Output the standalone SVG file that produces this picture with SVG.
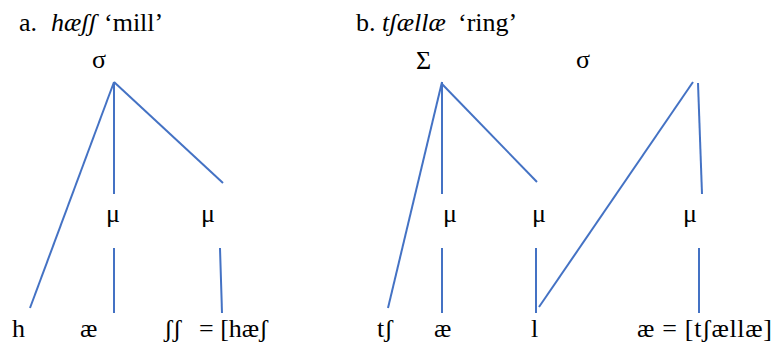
<svg xmlns="http://www.w3.org/2000/svg" width="775" height="345" viewBox="0 0 775 345">
<style>
text{font-family:'Liberation Serif','Times New Roman','DejaVu Serif',serif;font-size:26px;fill:#000}
.i{font-style:italic}
.c line{stroke:#4472C4;stroke-width:2;stroke-linecap:butt}
</style>
<rect width="775" height="345" fill="#fff"/>
<g id="title-a"><text y="31"><tspan x="19">a.</tspan><tspan x="51" class="i">hæʃʃ</tspan><tspan x="104">‘mill’</tspan></text></g>
<g id="title-b"><text y="31"><tspan x="356">b.</tspan><tspan x="382" class="i">tʃællæ</tspan><tspan x="458">‘ring’</tspan></text></g>
<g id="a-sigma"><text x="92" y="68">σ</text></g>
<g id="a-mu1"><text x="106" y="222">μ</text></g>
<g id="a-mu2"><text x="201" y="222">μ</text></g>
<g id="a-h"><text x="12" y="337">h</text></g>
<g id="a-ae"><text x="80" y="337">æ</text></g>
<g id="a-sh"><text y="337"><tspan x="164">ʃʃ</tspan><tspan x="199">= [hæʃ</tspan></text></g>
<g id="b-Sigma"><text x="416" y="69">Σ</text></g>
<g id="b-sigma"><text x="576" y="68">σ</text></g>
<g id="b-mu1"><text x="443" y="222">μ</text></g>
<g id="b-mu2"><text x="532" y="222">μ</text></g>
<g id="b-mu3"><text x="683" y="222">μ</text></g>
<g id="b-tsh"><text x="377" y="337">tʃ</text></g>
<g id="b-ae"><text x="434" y="337">æ</text></g>
<g id="b-l"><text x="531" y="337">l</text></g>
<g id="b-ae2"><text x="637" y="337" textLength="135" lengthAdjust="spacing">æ = [tʃællæ]</text></g>
<g class="c" id="connectors">
<line x1="114" y1="82" x2="30" y2="308"/>
<line x1="114" y1="82" x2="114" y2="194"/>
<line x1="114" y1="82" x2="223" y2="183"/>
<line x1="114" y1="248" x2="114" y2="313"/>
<line x1="220" y1="248" x2="222" y2="313"/>
<line x1="442" y1="82" x2="388" y2="308"/>
<line x1="442" y1="82" x2="442" y2="194"/>
<line x1="442" y1="84" x2="537" y2="182"/>
<line x1="442" y1="248" x2="442" y2="313"/>
<line x1="536" y1="248" x2="536" y2="313"/>
<line x1="693" y1="82" x2="539" y2="307"/>
<line x1="698" y1="83" x2="702" y2="194"/>
<line x1="699" y1="248" x2="699" y2="313"/>
</g>
</svg>
